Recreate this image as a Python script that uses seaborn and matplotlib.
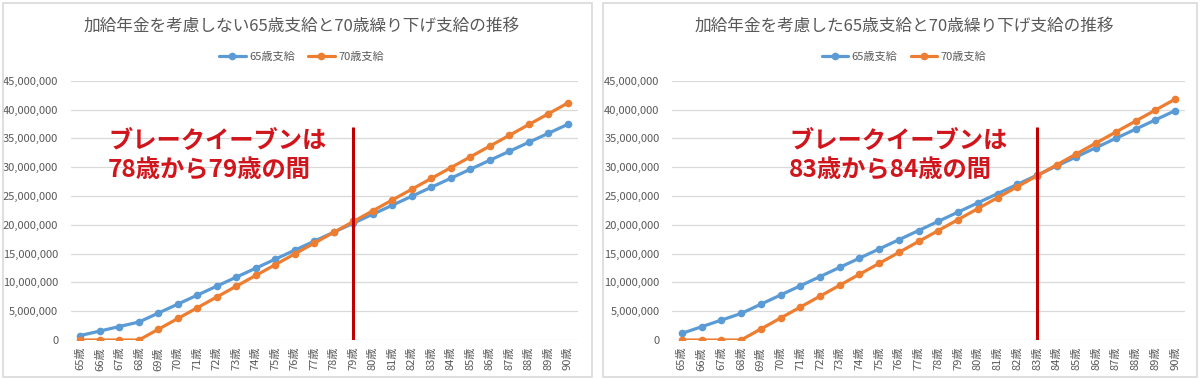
import numpy as np
import pandas as pd
import matplotlib
matplotlib.use('Agg')
import matplotlib.pyplot as plt
from matplotlib.patches import Rectangle
from matplotlib.lines import Line2D
from matplotlib.ticker import FuncFormatter
import seaborn as sns

sns.set_style('white')
plt.rcParams['font.family'] = ['Noto Sans CJK JP', 'DejaVu Sans']

# ages on the x axis
ages = [65, 66, 67, 68, 69, 70, 71, 72, 73, 74, 75, 76, 77,
        78, 79, 80, 81, 82, 83, 84, 85, 86, 87, 88, 89, 90]
age_labels = [f'{a}歳' for a in ages]

series_names = ['65歳支給', '70歳支給']

# left chart: without 加給年金 (yen, cumulative)
left_65 = [780000, 1560000, 2340000, 3120000, 4680000, 6240000, 7800000, 9360000,
           10920000, 12480000, 14040000, 15600000, 17160000, 18720000, 20280000,
           21840000, 23400000, 24960000, 26520000, 28080000, 29640000, 31200000,
           32760000, 34320000, 35880000, 37440000]
left_70 = [0, 0, 0, 0, 1870000, 3740000, 5610000, 7480000, 9350000, 11220000,
           13090000, 14960000, 16830000, 18700000, 20570000, 22440000, 24310000,
           26180000, 28050000, 29920000, 31790000, 33660000, 35530000, 37400000,
           39270000, 41140000]

# right chart: with 加給年金
right_65 = [1150000, 2300000, 3450000, 4600000, 6200000, 7800000, 9400000, 11000000,
            12600000, 14200000, 15800000, 17400000, 19000000, 20600000, 22200000,
            23800000, 25400000, 27000000, 28600000, 30200000, 31800000, 33400000,
            35000000, 36600000, 38200000, 39800000]
right_70 = [0, 0, 0, 0, 1900000, 3800000, 5700000, 7600000, 9500000, 11400000,
            13300000, 15200000, 17100000, 19000000, 20900000, 22800000, 24700000,
            26600000, 28500000, 30400000, 32300000, 34200000, 36100000, 38000000,
            39900000, 41800000]

titles = ['加給年金を考慮しない65歳支給と70歳繰り下げ支給の推移',
          '加給年金を考慮した65歳支給と70歳繰り下げ支給の推移']
notes = [('ブレークイーブンは', '78歳から79歳の間'),
         ('ブレークイーブンは', '83歳から84歳の間')]
break_age = [79, 83]

blue = '#5B9BD5'
orange = '#ED7D31'
red = '#D0161C'
line_red = '#C00000'
grid_c = '#D9D9D9'
text_c = '#595959'

W, H = 1200, 379
fig = plt.figure(figsize=(12, 3.79), dpi=100)
fig.patch.set_facecolor('white')

# pixel layout of the two panels: (panel left, panel right, plot left, plot right, note x)
panels = [(2.5, 592, 70.7, 577.7, 108), (603, 1197, 672, 1185, 789)]
plot_bottom, plot_top = 340, 80.7

datasets = [(left_65, left_70), (right_65, right_70)]

for i, (pl, pr, al, ar, nx) in enumerate(panels):
    fig.patches.append(Rectangle((pl / W, 2 / H), (pr - pl) / W, (376 - 2) / H,
                                 transform=fig.transFigure, fill=False,
                                 edgecolor=grid_c, lw=1.2))
    ax = fig.add_axes([al / W, (H - plot_bottom) / H, (ar - al) / W,
                       (plot_bottom - plot_top) / H])

    s65, s70 = datasets[i]
    df = pd.DataFrame({
        'age': ages * 2,
        'value': s65 + s70,
        'series': [series_names[0]] * len(ages) + [series_names[1]] * len(ages),
    })
    sns.lineplot(data=df, x='age', y='value', hue='series', hue_order=series_names,
                 palette=[blue, orange], marker='o', markersize=5.5,
                 markeredgewidth=0, linewidth=2.3, legend=False, ax=ax)

    ax.vlines(break_age[i], 0, 36.9e6, color=line_red, lw=2.2, zorder=5)

    ax.set_xlim(64.5, 90.5)
    ax.set_ylim(0, 45e6)
    ax.set_yticks(np.arange(0, 45e6 + 1, 5e6))
    ax.yaxis.set_major_formatter(FuncFormatter(lambda v, p: f'{v:,.0f}'))
    ax.set_xticks(ages)
    ax.set_xticklabels(age_labels, rotation=90)
    ax.tick_params(axis='both', length=0, labelsize=8, labelcolor=text_c)
    ax.tick_params(axis='y', pad=9)
    ax.tick_params(axis='x', pad=5)
    ax.grid(axis='y', color=grid_c, lw=0.9)
    ax.set_axisbelow(True)
    for sp in ax.spines.values():
        sp.set_visible(False)
    ax.set_xlabel('')
    ax.set_ylabel('')

    # note text
    fx = (nx - al) / (ar - al)
    ax.text(fx, (plot_bottom - 141) / (plot_bottom - plot_top), notes[i][0],
            transform=ax.transAxes, ha='left', va='center', fontsize=17.5,
            fontweight='bold', color=red)
    ax.text(fx, (plot_bottom - 171) / (plot_bottom - plot_top), notes[i][1],
            transform=ax.transAxes, ha='left', va='center', fontsize=17.5,
            fontweight='bold', color=red)

    # title and legend
    cx = (pl + pr) / 2 + 4
    fig.text(cx / W, 1 - 26 / H, titles[i], ha='center', va='center',
             fontsize=12, color=text_c)
    handles = [Line2D([], [], color=c, lw=2.3, marker='o', markersize=5.5,
                      markeredgewidth=0) for c in (blue, orange)]
    ax.legend(handles, series_names, loc='center', ncol=2, frameon=False,
              bbox_to_anchor=((cx - al) / (ar - al), 1 + 23.7 / (plot_bottom - plot_top)),
              fontsize=8, labelcolor=text_c, handlelength=2.4, columnspacing=1.2,
              handletextpad=0.3)

plt.savefig('out.png', dpi=100)
